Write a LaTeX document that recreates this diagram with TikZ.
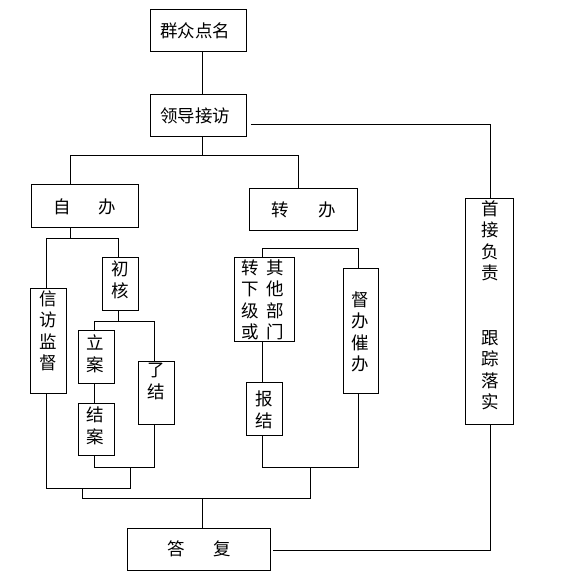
\documentclass[tikz,border=0pt]{standalone}
\usepackage{fontspec}
\newfontfamily\cjk{Noto Sans CJK SC}
\begin{document}
\begin{tikzpicture}[x=1pt,y=-1pt,
  box/.style={draw, line width=0.9pt, inner sep=0pt},
  txt/.style={font=\cjk\fontsize{17.5}{21.5}\selectfont, inner sep=0pt, align=center},
  conn/.style={line width=0.9pt}]
\useasboundingbox[fill=white] (0,0) rectangle (579,586);
% boxes
\node[box, minimum width=96pt,  minimum height=42pt]  (qz)  at (198.5,30) {};
\node[box, minimum width=96pt,  minimum height=42pt]  (ld)  at (198.5,115) {};
\node[box, minimum width=107pt, minimum height=43pt]  (zb)  at (84.5,205.5) {};
\node[box, minimum width=108pt, minimum height=42pt]  (zhb) at (303,209) {};
\node[box, minimum width=48pt,  minimum height=226pt] (sj)  at (489,311) {};
\node[box, minimum width=36pt,  minimum height=105pt] (xf)  at (48,340.5) {};
\node[box, minimum width=36pt,  minimum height=53pt]  (ch)  at (120,283.5) {};
\node[box, minimum width=36pt,  minimum height=53pt]  (la)  at (96,356.5) {};
\node[box, minimum width=36pt,  minimum height=63pt]  (lj)  at (156,392.5) {};
\node[box, minimum width=36pt,  minimum height=52pt]  (ja)  at (96,429) {};
\node[box, minimum width=60pt,  minimum height=84pt]  (zx)  at (264,299) {};
\node[box, minimum width=35pt,  minimum height=125pt] (db)  at (360.5,330.5) {};
\node[box, minimum width=36pt,  minimum height=53pt]  (bj)  at (264,408.5) {};
\node[box, minimum width=143pt, minimum height=42pt]  (df)  at (198.5,549) {};
% texts
\node[txt] (qzt)  at (195,30.5) {群众点名};
\node[txt] (ldt)  at (195,116) {领导接访};
\node[txt] (zbt)  at (84.5,207) {自\hspace{28pt}办};
\node[txt] (zhbt) at (303.5,210) {转\hspace{29pt}办};
\node[txt] (dft)  at (199.5,549) {答\hspace{29pt}复};
\node[txt] (sjt)  at (490,305.5) {首\\接\\负\\责\\~\\~\\跟\\踪\\落\\实};
\node[txt] (xft)  at (48,331) {信\\访\\监\\督};
\node[txt] (cht)  at (120,280) {初\\核};
\node[txt] (lat)  at (95.5,354) {立\\案};
\node[txt] (ljt)  at (156,381.5) {了\\结};
\node[txt] (jat)  at (95.5,426) {结\\案};
\node[txt] (zxt)  at (262.5,300) {转\hspace{7pt}其\\下\hspace{7pt}他\\级\hspace{7pt}部\\或\hspace{7pt}门};
\node[txt] (dbt)  at (360,332) {督\\办\\催\\办};
\node[txt] (bjt)  at (264,410) {报\\结};
% coordinates
\coordinate (bL) at (70,155);
\coordinate (bR) at (298,155);
\coordinate (bM) at (202,155);
\coordinate (c1) at (46,238);
\coordinate (c2) at (118,238);
\coordinate (d1) at (94,321);
\coordinate (d2) at (154,321);
\coordinate (e1) at (94,467);
\coordinate (e2) at (154,467);
\coordinate (f1) at (130,467);
\coordinate (f2) at (130,488);
\coordinate (g1) at (46,488);
\coordinate (h1) at (82,488);
\coordinate (h2) at (82,498);
\coordinate (h3) at (310,498);
\coordinate (h4) at (310,467);
\coordinate (h5) at (202,498);
\coordinate (k1) at (262,248);
\coordinate (k2) at (358,248);
\coordinate (m1) at (262,467);
\coordinate (m2) at (358,467);
% connectors
\draw[conn] ([xshift=3.5pt]qz.south) -- ([xshift=3.5pt]ld.north);
\draw[conn] ([xshift=4pt,yshift=-9pt]ld.east) -| ([xshift=1pt]sj.north);
\draw[conn] ([xshift=3.5pt]ld.south) -- (bM);
\draw[conn] (bL |- zb.north) -- (bL) -- (bR) -- (bR |- zhb.north);
\draw[conn] (bL |- zb.south) -- (bL |- c1);
\draw[conn] (c1 |- xf.north) -- (c1) -- (c2) -- (c2 |- ch.north);
\draw[conn] (c2 |- ch.south) -- (c2 |- d1);
\draw[conn] (d1 |- la.north) -- (d1) -- (d2) -- (d2 |- lj.north);
\draw[conn] (d1 |- la.south) -- (d1 |- ja.north);
\draw[conn] (d1 |- ja.south) -- (e1) -- (e2) -- (d2 |- lj.south);
\draw[conn] (c1 |- xf.south) -- (g1) -- (f2) -- (f1);
\draw[conn] (h1) -- (h2) -- (h3) -- (h4);
\draw[conn] (h5) -- (h5 |- df.north);
\draw[conn] (k1 |- zx.north) -- (k1) -- (k2) -- (k2 |- db.north);
\draw[conn] (k1 |- zx.south) -- (k1 |- bj.north);
\draw[conn] (k1 |- bj.south) -- (m1) -- (m2) -- (k2 |- db.south);
\draw[conn] ([xshift=3pt,yshift=-1pt]df.east) -| ([xshift=1pt]sj.south);
\end{tikzpicture}
\end{document}
